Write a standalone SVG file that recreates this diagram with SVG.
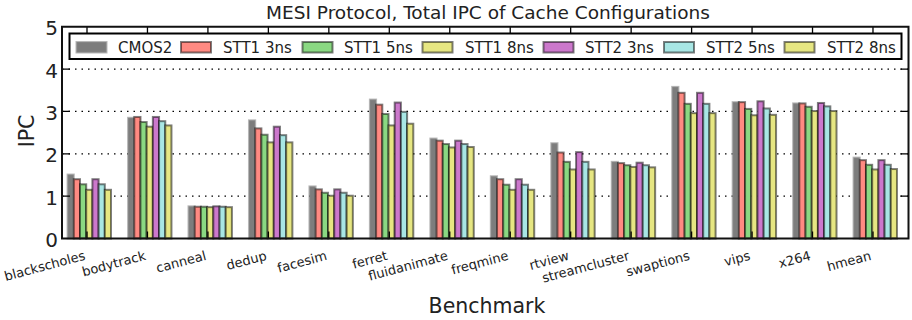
<svg xmlns="http://www.w3.org/2000/svg" width="912" height="320" viewBox="0 0 912 320">
<style>
text{font-family:"DejaVu Sans","Liberation Sans",sans-serif;fill:#222}
.t{font-size:18.5px}
.ax{font-size:20.5px}
.yt{font-size:20px;text-anchor:end}
.xt{font-size:13px;text-anchor:end}
.lg{font-size:15px}
rect{stroke:#000;stroke-opacity:.5;stroke-width:2}
.c0{fill:#7d7d7d;stroke:#888;stroke-opacity:.6}
.c1{fill:#ff8a82}
.c2{fill:#8ad882}
.c3{fill:#e6e682}
.c4{fill:#cc78cc}
.c5{fill:#a8e6e4}
.c6{fill:#e6e682}
.grid{stroke:#000;stroke-width:1.3;stroke-dasharray:1.5 5;fill:none}
.tick{stroke:#000;stroke-width:1.3;fill:none}
.frame{fill:none;stroke:#111;stroke-width:2;stroke-opacity:1}
</style>
<rect x="0" y="0" width="912" height="320" style="fill:#fff;stroke:none"/>
<text class="t" x="488" y="18.5" text-anchor="middle">MESI Protocol, Total IPC of Cache Configurations</text>
<g id="grid">
<path class="grid" d="M62 196.15H908.5M62 153.8H908.5M62 111.45H908.5M62 69.1H908.5"/>
</g>
<g id="bars">
<g id="blackscholes" transform="translate(67.6,0)">
<rect class="c0" x="0" y="174.55" width="6.2" height="63.95"/><rect class="c1" x="6.2" y="179.21" width="6.2" height="59.29"/><rect class="c2" x="12.4" y="184.29" width="6.2" height="54.21"/><rect class="c3" x="18.6" y="189.8" width="6.2" height="48.7"/><rect class="c4" x="24.8" y="179.21" width="6.2" height="59.29"/><rect class="c5" x="31" y="184.29" width="6.2" height="54.21"/><rect class="c6" x="37.2" y="189.8" width="6.2" height="48.7"/>
</g>
<g id="bodytrack" transform="translate(128.06,0)">
<rect class="c0" x="0" y="117.8" width="6.2" height="120.7"/><rect class="c1" x="6.2" y="116.96" width="6.2" height="121.54"/><rect class="c2" x="12.4" y="122.04" width="6.2" height="116.46"/><rect class="c3" x="18.6" y="126.7" width="6.2" height="111.8"/><rect class="c4" x="24.8" y="116.96" width="6.2" height="121.54"/><rect class="c5" x="31" y="121.19" width="6.2" height="117.31"/><rect class="c6" x="37.2" y="125.43" width="6.2" height="113.07"/>
</g>
<g id="canneal" transform="translate(188.52,0)">
<rect class="c0" x="0" y="206.31" width="6.2" height="32.19"/><rect class="c1" x="6.2" y="206.74" width="6.2" height="31.76"/><rect class="c2" x="12.4" y="206.74" width="6.2" height="31.76"/><rect class="c3" x="18.6" y="207.16" width="6.2" height="31.34"/><rect class="c4" x="24.8" y="206.31" width="6.2" height="32.19"/><rect class="c5" x="31" y="206.74" width="6.2" height="31.76"/><rect class="c6" x="37.2" y="207.16" width="6.2" height="31.34"/>
</g>
<g id="dedup" transform="translate(248.98,0)">
<rect class="c0" x="0" y="120.34" width="6.2" height="118.16"/><rect class="c1" x="6.2" y="128.39" width="6.2" height="110.11"/><rect class="c2" x="12.4" y="134.74" width="6.2" height="103.76"/><rect class="c3" x="18.6" y="142.37" width="6.2" height="96.13"/><rect class="c4" x="24.8" y="126.7" width="6.2" height="111.8"/><rect class="c5" x="31" y="135.17" width="6.2" height="103.33"/><rect class="c6" x="37.2" y="142.37" width="6.2" height="96.13"/>
</g>
<g id="facesim" transform="translate(309.44,0)">
<rect class="c0" x="0" y="186.41" width="6.2" height="52.09"/><rect class="c1" x="6.2" y="189.37" width="6.2" height="49.13"/><rect class="c2" x="12.4" y="192.76" width="6.2" height="45.74"/><rect class="c3" x="18.6" y="195.73" width="6.2" height="42.77"/><rect class="c4" x="24.8" y="189.37" width="6.2" height="49.13"/><rect class="c5" x="31" y="192.76" width="6.2" height="45.74"/><rect class="c6" x="37.2" y="195.73" width="6.2" height="42.77"/>
</g>
<g id="ferret" transform="translate(369.9,0)">
<rect class="c0" x="0" y="99.59" width="6.2" height="138.91"/><rect class="c1" x="6.2" y="104.67" width="6.2" height="133.83"/><rect class="c2" x="12.4" y="113.99" width="6.2" height="124.51"/><rect class="c3" x="18.6" y="125.43" width="6.2" height="113.07"/><rect class="c4" x="24.8" y="102.56" width="6.2" height="135.94"/><rect class="c5" x="31" y="111.87" width="6.2" height="126.63"/><rect class="c6" x="37.2" y="123.73" width="6.2" height="114.77"/>
</g>
<g id="fluidanimate" transform="translate(430.36,0)">
<rect class="c0" x="0" y="138.55" width="6.2" height="99.95"/><rect class="c1" x="6.2" y="140.67" width="6.2" height="97.83"/><rect class="c2" x="12.4" y="144.06" width="6.2" height="94.44"/><rect class="c3" x="18.6" y="147.45" width="6.2" height="91.05"/><rect class="c4" x="24.8" y="140.67" width="6.2" height="97.83"/><rect class="c5" x="31" y="144.06" width="6.2" height="94.44"/><rect class="c6" x="37.2" y="147.02" width="6.2" height="91.48"/>
</g>
<g id="freqmine" transform="translate(490.82,0)">
<rect class="c0" x="0" y="176.25" width="6.2" height="62.25"/><rect class="c1" x="6.2" y="179.21" width="6.2" height="59.29"/><rect class="c2" x="12.4" y="184.72" width="6.2" height="53.78"/><rect class="c3" x="18.6" y="189.8" width="6.2" height="48.7"/><rect class="c4" x="24.8" y="179.21" width="6.2" height="59.29"/><rect class="c5" x="31" y="184.72" width="6.2" height="53.78"/><rect class="c6" x="37.2" y="189.8" width="6.2" height="48.7"/>
</g>
<g id="rtview" transform="translate(551.28,0)">
<rect class="c0" x="0" y="143.21" width="6.2" height="95.29"/><rect class="c1" x="6.2" y="152.53" width="6.2" height="85.97"/><rect class="c2" x="12.4" y="161.85" width="6.2" height="76.65"/><rect class="c3" x="18.6" y="169.47" width="6.2" height="69.03"/><rect class="c4" x="24.8" y="152.11" width="6.2" height="86.39"/><rect class="c5" x="31" y="161.85" width="6.2" height="76.65"/><rect class="c6" x="37.2" y="169.47" width="6.2" height="69.03"/>
</g>
<g id="streamcluster" transform="translate(611.74,0)">
<rect class="c0" x="0" y="161.85" width="6.2" height="76.65"/><rect class="c1" x="6.2" y="163.12" width="6.2" height="75.38"/><rect class="c2" x="12.4" y="165.23" width="6.2" height="73.27"/><rect class="c3" x="18.6" y="166.93" width="6.2" height="71.57"/><rect class="c4" x="24.8" y="162.69" width="6.2" height="75.81"/><rect class="c5" x="31" y="165.23" width="6.2" height="73.27"/><rect class="c6" x="37.2" y="167.35" width="6.2" height="71.15"/>
</g>
<g id="swaptions" transform="translate(672.2,0)">
<rect class="c0" x="0" y="86.89" width="6.2" height="151.61"/><rect class="c1" x="6.2" y="92.82" width="6.2" height="145.68"/><rect class="c2" x="12.4" y="103.83" width="6.2" height="134.67"/><rect class="c3" x="18.6" y="113.14" width="6.2" height="125.36"/><rect class="c4" x="24.8" y="92.82" width="6.2" height="145.68"/><rect class="c5" x="31" y="103.83" width="6.2" height="134.67"/><rect class="c6" x="37.2" y="113.14" width="6.2" height="125.36"/>
</g>
<g id="vips" transform="translate(732.66,0)">
<rect class="c0" x="0" y="102.13" width="6.2" height="136.37"/><rect class="c1" x="6.2" y="102.13" width="6.2" height="136.37"/><rect class="c2" x="12.4" y="108.91" width="6.2" height="129.59"/><rect class="c3" x="18.6" y="115.26" width="6.2" height="123.24"/><rect class="c4" x="24.8" y="101.29" width="6.2" height="137.21"/><rect class="c5" x="31" y="108.49" width="6.2" height="130.01"/><rect class="c6" x="37.2" y="114.84" width="6.2" height="123.66"/>
</g>
<g id="x264" transform="translate(793.12,0)">
<rect class="c0" x="0" y="103.4" width="6.2" height="135.1"/><rect class="c1" x="6.2" y="103.4" width="6.2" height="135.1"/><rect class="c2" x="12.4" y="106.79" width="6.2" height="131.71"/><rect class="c3" x="18.6" y="111.03" width="6.2" height="127.47"/><rect class="c4" x="24.8" y="102.98" width="6.2" height="135.52"/><rect class="c5" x="31" y="106.37" width="6.2" height="132.13"/><rect class="c6" x="37.2" y="111.03" width="6.2" height="127.47"/>
</g>
<g id="hmean" transform="translate(853.58,0)">
<rect class="c0" x="0" y="157.61" width="6.2" height="80.89"/><rect class="c1" x="6.2" y="160.15" width="6.2" height="78.35"/><rect class="c2" x="12.4" y="164.81" width="6.2" height="73.69"/><rect class="c3" x="18.6" y="169.47" width="6.2" height="69.03"/><rect class="c4" x="24.8" y="160.15" width="6.2" height="78.35"/><rect class="c5" x="31" y="164.81" width="6.2" height="73.69"/><rect class="c6" x="37.2" y="169.05" width="6.2" height="69.45"/>
</g>
</g>
<g id="axes">
<path class="tick" d="M87 26.75v7M147.46 26.75v7M207.92 26.75v7M268.38 26.75v7M328.84 26.75v7M389.3 26.75v7M449.76 26.75v7M510.22 26.75v7M570.68 26.75v7M631.14 26.75v7M691.6 26.75v7M752.06 26.75v7M812.52 26.75v7M872.98 26.75v7"/>
<path class="tick" d="M87 238.5v-7M147.46 238.5v-7M207.92 238.5v-7M268.38 238.5v-7M328.84 238.5v-7M389.3 238.5v-7M449.76 238.5v-7M510.22 238.5v-7M570.68 238.5v-7M631.14 238.5v-7M691.6 238.5v-7M752.06 238.5v-7M812.52 238.5v-7M872.98 238.5v-7"/>
<path class="tick" d="M62 196.15h8M62 153.8h8M62 111.45h8M62 69.1h8M908.5 196.15h-8M908.5 153.8h-8M908.5 111.45h-8M908.5 69.1h-8"/>
<rect class="frame" x="62" y="26.75" width="846.5" height="211.75"/>
<text class="yt" x="58" y="247">0</text>
<text class="yt" x="58" y="204.65">1</text>
<text class="yt" x="58" y="162.3">2</text>
<text class="yt" x="58" y="119.95">3</text>
<text class="yt" x="58" y="77.6">4</text>
<text class="yt" x="58" y="35.25">5</text>
<text class="ax" transform="translate(33.5,131) rotate(-90)" text-anchor="middle">IPC</text>
<text class="ax" x="487" y="312.5" text-anchor="middle">Benchmark</text>
<text class="xt" transform="translate(86,259.5) rotate(-15)">blackscholes</text>
<text class="xt" transform="translate(146.46,259.5) rotate(-15)">bodytrack</text>
<text class="xt" transform="translate(206.92,259.5) rotate(-15)">canneal</text>
<text class="xt" transform="translate(267.38,259.5) rotate(-15)">dedup</text>
<text class="xt" transform="translate(327.84,259.5) rotate(-15)">facesim</text>
<text class="xt" transform="translate(388.3,259.5) rotate(-15)">ferret</text>
<text class="xt" transform="translate(448.76,259.5) rotate(-15)">fluidanimate</text>
<text class="xt" transform="translate(509.22,259.5) rotate(-15)">freqmine</text>
<text class="xt" transform="translate(569.68,259.5) rotate(-15)">rtview</text>
<text class="xt" transform="translate(630.14,259.5) rotate(-15)">streamcluster</text>
<text class="xt" transform="translate(690.6,259.5) rotate(-15)">swaptions</text>
<text class="xt" transform="translate(751.06,259.5) rotate(-15)">vips</text>
<text class="xt" transform="translate(811.52,259.5) rotate(-15)">x264</text>
<text class="xt" transform="translate(871.98,259.5) rotate(-15)">hmean</text>
</g>
<g id="legend">
<rect x="69.5" y="33.5" width="832" height="25.5" style="fill:#fff;stroke:#000;stroke-opacity:1;stroke-width:2"/>
<rect class="c0" x="76.5" y="42" width="30" height="10.5"/><text class="lg" x="118" y="53">CMOS2</text>
<rect class="c1" x="181" y="42" width="30" height="10.5"/><text class="lg" x="223" y="53">STT1 3ns</text>
<rect class="c2" x="302.5" y="42" width="30" height="10.5"/><text class="lg" x="344" y="53">STT1 5ns</text>
<rect class="c3" x="422.5" y="42" width="30" height="10.5"/><text class="lg" x="465" y="53">STT1 8ns</text>
<rect class="c4" x="543.5" y="42" width="30" height="10.5"/><text class="lg" x="585" y="53">STT2 3ns</text>
<rect class="c5" x="664" y="42" width="30" height="10.5"/><text class="lg" x="706" y="53">STT2 5ns</text>
<rect class="c6" x="784.5" y="42" width="30" height="10.5"/><text class="lg" x="827" y="53">STT2 8ns</text>
</g>
</svg>
